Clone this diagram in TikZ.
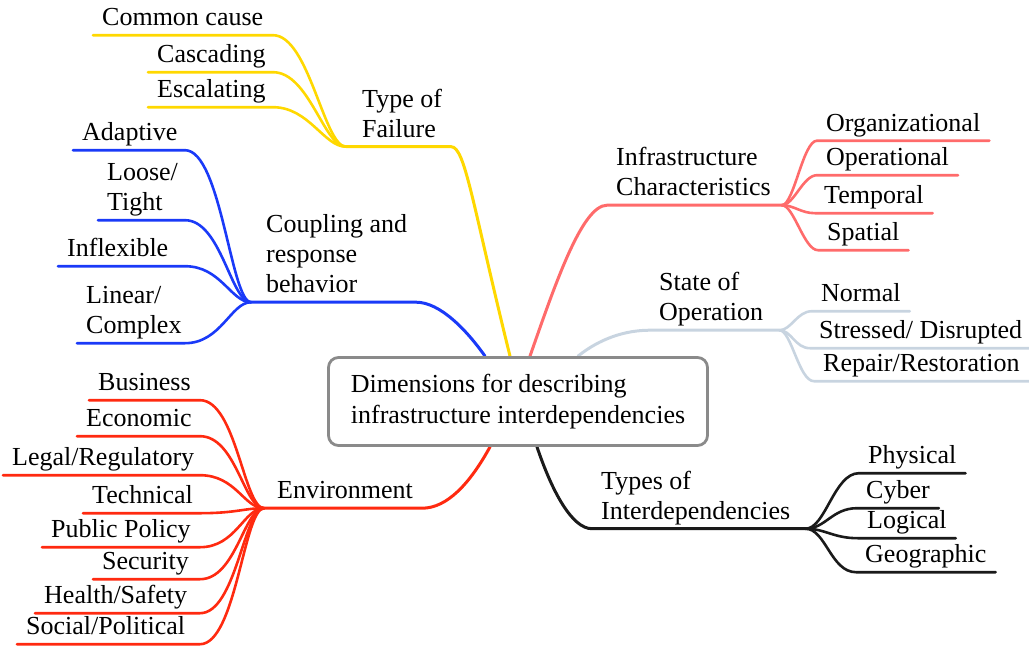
\documentclass[tikz,border=0pt]{standalone}
\usepackage{fontspec}
\setmainfont{Liberation Serif}
\usetikzlibrary{calc,backgrounds}
\definecolor{cyel}{HTML}{FFD800}
\definecolor{cblu}{HTML}{1A3AF8}
\definecolor{cred}{HTML}{FF2A10}
\definecolor{cpnk}{HTML}{FF6B6B}
\definecolor{cgry}{HTML}{C8D4E0}
\definecolor{cblk}{HTML}{1A1A1A}
\definecolor{cbox}{HTML}{8A8A8A}
\newcommand\twoline[2]{\vbox{\hbox{#1}\hbox{#2}}}
\newcommand\threeline[3]{\vbox{\hbox{#1}\hbox{#2}\hbox{#3}}}
\begin{document}
\begin{tikzpicture}[x=1pt,y=-1pt,
  lbl/.style={font=\fontsize{26}{30}\selectfont, inner xsep=9pt, inner ysep=9.5pt, text depth=0pt, anchor=base west},
  trunk/.style={line width=3pt, line cap=round},
  twig/.style={line width=2.6pt, line cap=round}]
\useasboundingbox (0,0) rectangle (1029,646);

% root
\node[draw=cbox, fill=white, line width=2.8pt, rounded corners=10pt, minimum width=379pt, minimum height=88pt,
  align=left, font=\fontsize{26}{31}\selectfont, inner sep=0pt] (root) at (518,401.5)
  {Dimensions for describing\\infrastructure interdependencies};

% mid-level nodes
\node[lbl] (fail)  at (353,137)   {\twoline{Type of}{Failure}};
\node[lbl] (coup)  at (257,292.5) {\threeline{Coupling and}{response}{behavior}};
\node[lbl] (env)   at (268,498.5) {Environment};
\node[lbl] (infra) at (607,195.5) {\twoline{Infrastructure}{Characteristics}};
\node[lbl] (state) at (650,320.5) {\twoline{State of}{Operation}};
\node[lbl] (types) at (592,519)   {\twoline{Types of}{Interdependencies}};

% leaves: failure
\node[lbl] (cc)   at (93,25.5)  {Common cause};
\node[lbl] (casc) at (148,62.5) {Cascading};
\node[lbl] (esc)  at (148,97.5) {Escalating};
% leaves: coupling
\node[lbl] (adapt) at (73,140.5) {Adaptive};
\node[lbl] (loose) at (98,210.5) {\twoline{Loose/}{Tight}};
\node[lbl] (infl)  at (58,256.5) {Inflexible};
\node[lbl] (lin)   at (77,333.5) {\twoline{Linear/}{Complex}};
% leaves: environment
\node[lbl] (bus)    at (89,390.5)  {Business};
\node[lbl] (eco)    at (77,426.5)  {Economic};
\node[lbl] (legal)  at (3,465.5)   {Legal/Regulatory};
\node[lbl] (tech)   at (83,503.5)  {Technical};
\node[lbl] (pub)    at (42,537.5)  {Public Policy};
\node[lbl] (sec)    at (93,569.5)  {Security};
\node[lbl] (health) at (35,603.5)  {Health/Safety};
\node[lbl] (social) at (17,634.5)  {Social/Political};
% leaves: infrastructure
\node[lbl] (org)  at (817,131)   {Organizational};
\node[lbl] (oper) at (817,165.5) {Operational};
\node[lbl] (temp) at (815,203.5) {Temporal};
\node[lbl] (spat) at (818,240.5) {Spatial};
% leaves: state
\node[lbl] (normal)   at (812,301.5) {Normal};
\node[lbl] (stressed) at (810,338.5) {Stressed/ Disrupted};
\node[lbl] (repair)   at (814,371.5) {Repair/Restoration};
% leaves: types
\node[lbl] (phys)    at (859,463.5) {Physical};
\node[lbl] (cyber)   at (857,498.5) {Cyber};
\node[lbl] (logical) at (858,528.5) {Logical};
\node[lbl] (geo)     at (856,562.5) {Geographic};

% junctions and cluster edges
\coordinate (jfail)  at ([xshift=-7pt]fail.south west);
\coordinate (jcoup)  at ([xshift=-6pt]coup.south west);
\coordinate (jenv)   at ([xshift=-4pt]env.south west);
\coordinate (jinfra) at ([xshift=2pt]infra.south east);
\coordinate (jstate) at ([xshift=7pt]state.south east);
\coordinate (jtypes) at ([xshift=6pt]types.south east);
\coordinate (yR) at (273,0);
\coordinate (bR) at (185,0);
\coordinate (rR) at (200,0);

\begin{pgfonlayer}{background}
% trunks
\draw[trunk,cyel] ([xshift=-8pt]root.north) .. controls +(-37.5,-151.5) and +(14,0) .. (fail.south east) -- (jfail);
\draw[trunk,cblu] ([xshift=-33pt]root.north) .. controls +(-18,-25.5) and +(24,0) .. (coup.south east) -- (jcoup);
\draw[trunk,cred] ([xshift=-28pt]root.south) .. controls +(-20,36.5) and +(25,0) .. (env.south east) -- (jenv);
\draw[trunk,cpnk] ([xshift=12pt]root.north) .. controls +(25,-71.5) and +(-25,0) .. (infra.south west) -- (jinfra);
\draw[trunk,cgry] ([xshift=60pt]root.north) .. controls +(22,-17.5) and +(-25,0) .. (state.south west) -- (jstate);
\draw[trunk,cblk] ([xshift=19pt]root.south) .. controls +(15,44.5) and +(-20,0) .. (types.south west) -- (jtypes);

% left twigs
\foreach \n in {cc,casc,esc}
  \draw[twig,cyel] (\n.south west) -- (\n.south west -| yR) .. controls +(36,0) and +(-22,0) .. (jfail);
\foreach \n in {adapt,loose,infl,lin}
  \draw[twig,cblu] (\n.south west) -- (\n.south west -| bR) .. controls +(36,0) and +(-20,0) .. (jcoup);
\foreach \n in {bus,eco,legal,tech,pub,sec,health,social}
  \draw[twig,cred] (\n.south west) -- (\n.south west -| rR) .. controls +(36,0) and +(-20,0) .. (jenv);

% right twigs
\foreach \n in {org,oper,temp,spat}
  \draw[twig,cpnk] (jinfra) .. controls +(12,0) and +(-14,0) .. (\n.south west) -- (\n.south east);
\foreach \n in {normal,stressed,repair}
  \draw[twig,cgry] (jstate) .. controls +(12,0) and +(-15,0) .. (\n.south west) -- (\n.south east);
\foreach \n in {phys,cyber,logical,geo}
  \draw[twig,cblk] (jtypes) .. controls +(20,0) and +(-25,0) .. (\n.south west) -- (\n.south east);
\end{pgfonlayer}
\end{tikzpicture}
\end{document}
